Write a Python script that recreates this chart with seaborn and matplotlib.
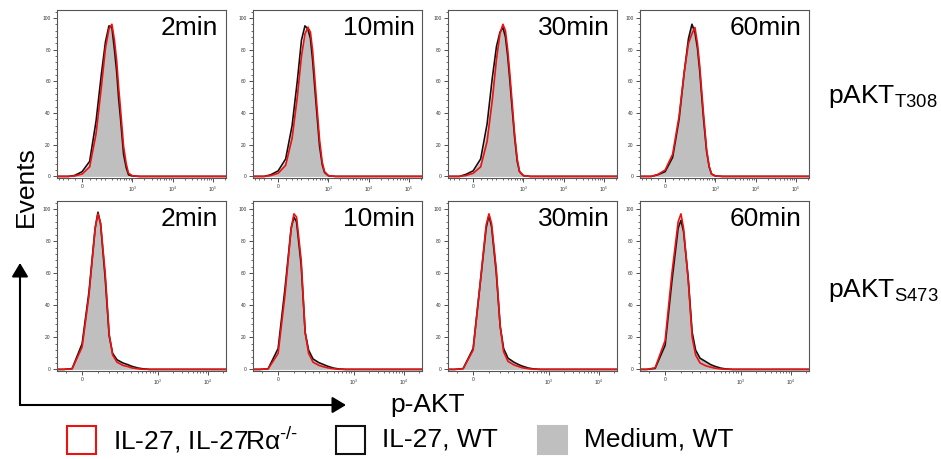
import numpy as np
import pandas as pd
import seaborn as sns
import matplotlib.pyplot as plt
from matplotlib.ticker import MultipleLocator
from matplotlib.patches import Rectangle

# panel titles, row labels, legend entries
TIMES = ['2min', '10min', '30min', '60min']
ROW_LABELS = ['pAKT$_{T308}$', 'pAKT$_{S473}$']
GROUPS = ['IL-27, IL-27Rα$^{\u2010/\u2010}$', 'IL-27, WT', 'Medium, WT']

# fluorescence values (x) and % of max (y)
T308_X = [-225, -150, -100, -50, 0, 50, 100, 150, 200, 250, 300, 350, 400,
          450, 500, 600, 700, 800, 1000, 1500, 213000]
S473_X = [-90, -80, -60, -30, 0, 20, 40, 50, 60, 80, 100, 120, 150, 200,
          250, 300, 400, 500, 700, 1000, 23000]

# pAKT T308
t308_red = [
    [0, 0, 0, 0.3, 1.5, 6, 27, 56, 81, 93, 96, 86, 73, 56, 43, 19, 8, 2, 0.4, 0, 0],
    [0, 0, 0, 0.5, 2, 7, 24, 50, 76, 90, 94, 91, 79, 63, 48, 23, 9, 3, 0.5, 0, 0],
    [0, 0, 0, 0.5, 2, 6, 22, 48, 74, 90, 96, 92, 80, 66, 52, 27, 11, 3, 0.5, 0, 0],
    [0, 0, 0, 1.2, 4, 14, 38, 66, 84, 90, 94, 84, 70, 54, 40, 17, 6, 1.5, 0.3, 0, 0],
]
t308_black = [
    [0, 0, 0, 0.6, 3, 9.5, 35, 64, 85, 95, 94, 80, 66, 49, 37, 14, 5.5, 1, 0.3, 0, 0],
    [0, 0, 0, 1, 3.5, 11, 32, 60, 86, 95, 93, 87, 73, 57, 43, 19, 7.5, 2.5, 0.4, 0, 0],
    [0, 0, 0, 1.2, 3.5, 11, 33, 62, 82, 91, 94, 88, 76, 62, 48, 25, 9.5, 3, 0.5, 0, 0],
    [0, 0, 0, 1, 3, 12, 36, 66, 87, 96, 91, 81, 67, 51, 37, 16, 6, 1.5, 0.3, 0, 0],
]
t308_gray = [
    [0, 0, 0, 0.5, 2.5, 8.5, 33, 63, 86, 94, 95, 79, 67, 50, 38, 15, 6, 1, 0.3, 0, 0],
    [0, 0, 0, 0.8, 3, 10, 30, 57, 80, 92, 96, 88, 75, 58, 44, 20, 8, 2.5, 0.4, 0, 0],
    [0, 0, 0, 1, 3, 10, 30, 58, 80, 90, 95, 90, 78, 64, 50, 26, 10, 3, 0.5, 0, 0],
    [0, 0, 0, 1, 3, 12, 36, 66, 88, 95, 92, 82, 68, 52, 38, 16, 6, 1.5, 0.3, 0, 0],
]

# pAKT S473
s473_red = [
    [0, 0, 0, 0.3, 14, 46, 88, 97, 91, 60, 22, 9, 4.5, 2.5, 1.8, 1, 0.4, 0.1, 0, 0, 0],
    [0, 0, 0, 0.3, 10, 46, 88, 97, 95, 68, 23, 10, 4.5, 2.5, 1.6, 1, 0.4, 0.1, 0, 0, 0],
    [0, 0, 0, 0.4, 12, 52, 90, 97, 91, 63, 27, 11, 5, 2.8, 1.8, 1, 0.4, 0.1, 0, 0, 0],
    [0, 0, 0, 1, 18, 60, 92, 97, 88, 56, 20, 9, 4, 2.2, 1.4, 0.8, 0.3, 0.1, 0, 0, 0],
]
s473_black = [
    [0, 0, 0, 0.5, 16, 48, 88, 98, 91, 57, 21, 10, 6, 4, 3, 2, 0.9, 0.4, 0, 0, 0],
    [0, 0, 0, 0.4, 13, 50, 88, 95, 92, 65, 23, 12, 6.5, 4.2, 3, 2, 0.8, 0.3, 0, 0, 0],
    [0, 0, 0, 0.5, 13, 52, 88, 96, 89, 61, 27, 13, 7, 4.5, 3, 2, 0.8, 0.3, 0, 0, 0],
    [0, 0, 0, 0.6, 15, 55, 88, 93, 86, 57, 23, 12, 7, 4.8, 3, 2, 0.8, 0.3, 0, 0, 0],
]
s473_gray = [
    [0, 0, 0, 0.5, 16, 48, 88, 97, 90, 58, 22, 10, 5.5, 3.5, 2.5, 1.5, 0.7, 0.3, 0, 0, 0],
    [0, 0, 0, 0.3, 12, 49, 88, 95, 93, 66, 24, 12, 6, 3.8, 2.5, 1.6, 0.6, 0.2, 0, 0, 0],
    [0, 0, 0, 0.5, 13, 52, 88, 95, 90, 62, 28, 13, 6.5, 4, 2.5, 1.6, 0.6, 0.2, 0, 0, 0],
    [0, 0, 0, 0.6, 15, 55, 88, 92, 86, 58, 24, 12, 7, 4.5, 2.8, 1.8, 0.7, 0.2, 0, 0, 0],
]

RED = '#ee1111'
BLACK = '#111111'
GRAY = '#bfbfbf'

sns.set_theme(style='ticks')
plt.rcParams['font.family'] = ['Liberation Sans', 'DejaVu Sans']
plt.rcParams['mathtext.default'] = 'regular'
plt.rcParams['text.color'] = 'black'

W, H = 941, 459
fig = plt.figure(figsize=(W / 100, H / 100), dpi=100)

lefts = [57, 253, 448, 640]
rows = [
    dict(top=10, bottom=178, x=T308_X, red=t308_red, black=t308_black, gray=t308_gray,
         a0=113, xlim=(-225, 213000), major=[0, 1e3, 1e4, 1e5],
         labels=['0', '$10^3$', '$10^4$', '$10^5$']),
    dict(top=201, bottom=371, x=S473_X, red=s473_red, black=s473_black, gray=s473_gray,
         a0=63.3, xlim=(-90, 23000), major=[0, 1e3, 1e4],
         labels=['0', '$10^3$', '$10^4$']),
]

minor_x = [-200, -150, -100, -50, 50, 100, 150, 200, 300, 400, 500, 600, 700, 800, 900]
minor_x += [k * 10 ** e for e in (3, 4) for k in range(2, 10)] + [2e5]

for r, row in enumerate(rows):
    for c, left in enumerate(lefts):
        ax = fig.add_axes([left / W, 1 - row['bottom'] / H, 169 / W,
                           (row['bottom'] - row['top']) / H])
        ax.set_xscale('asinh', linear_width=row['a0'])
        x = row['x']
        ax.fill_between(x, row['gray'][c], color=GRAY, lw=0)
        df = pd.DataFrame({
            'fl': x + x,
            'pct': row['black'][c] + row['red'][c],
            'group': [GROUPS[1]] * len(x) + [GROUPS[0]] * len(x),
        })
        sns.lineplot(data=df, x='fl', y='pct', hue='group',
                     palette={GROUPS[0]: RED, GROUPS[1]: BLACK},
                     estimator=None, sort=False, lw=1.2, legend=False, ax=ax)
        ax.set_xlim(*row['xlim'])
        ax.set_ylim(-1, 105)
        ax.set(xlabel='', ylabel='')

        ax.set_xticks(row['major'], row['labels'])
        ax.set_xticks([m for m in minor_x if row['xlim'][0] < m < row['xlim'][1]], minor=True)
        ax.set_yticks(range(0, 101, 20))
        ax.yaxis.set_minor_locator(MultipleLocator(4))
        ax.tick_params(which='major', length=3, width=0.6, labelsize=3.5, pad=1.5,
                       colors='#333333')
        ax.tick_params(which='minor', length=1.5, width=0.5, colors='#333333')
        for s in ax.spines.values():
            s.set_color('#555555')
            s.set_linewidth(0.8)

        ax.text(0.955, 0.965, TIMES[c], transform=ax.transAxes, ha='right', va='top',
                fontsize=19, color='black')

# overlay in pixel coordinates for arrows, labels and legend
ov = fig.add_axes([0, 0, 1, 1], zorder=-1)
ov.set_xlim(0, W)
ov.set_ylim(H, 0)
ov.axis('off')

arrow = dict(arrowstyle='-|>,head_length=0.55,head_width=0.33', lw=1.5, color='black',
             mutation_scale=15, shrinkA=0, shrinkB=0)
ov.annotate('', xy=(20, 263), xytext=(20, 405), arrowprops=arrow)
ov.annotate('', xy=(346, 405), xytext=(20, 405), arrowprops=arrow)

ov.text(26, 187, 'Events', rotation=90, ha='center', va='center', fontsize=19, color='black')
ov.text(428, 405, 'p-AKT', ha='center', va='center', fontsize=19, color='black')

ov.text(828, 97, ROW_LABELS[0], ha='left', va='center', fontsize=19, color='black')
ov.text(828, 291, ROW_LABELS[1], ha='left', va='center', fontsize=19, color='black')

boxes = [(67, dict(fc='none', ec=RED)), (336, dict(fc='none', ec=BLACK)),
         (538, dict(fc=GRAY, ec=GRAY))]
for (bx, style), label in zip(boxes, GROUPS):
    ov.add_patch(Rectangle((bx, 426), 29, 28, lw=1.5, **style))
    ov.text(bx + 46, 440, label, ha='left', va='center', fontsize=19, color='black')

fig.savefig('out.png', dpi=100)
